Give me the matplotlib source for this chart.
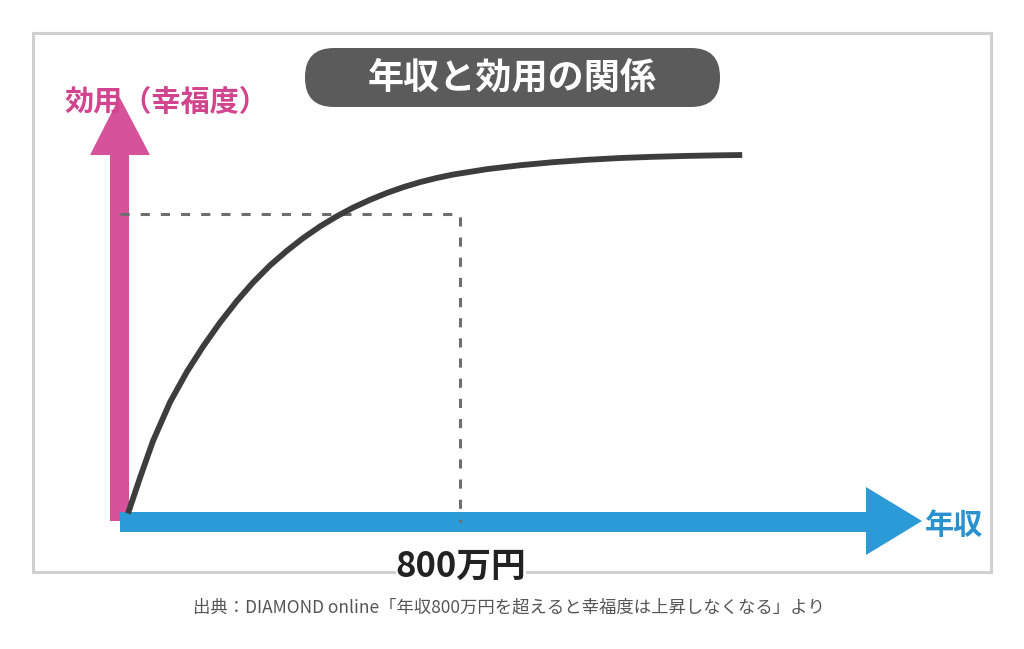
import numpy as np
import matplotlib
matplotlib.use("Agg")
import matplotlib.pyplot as plt
from matplotlib.patches import Polygon, FancyBboxPatch, Rectangle

plt.rcParams['font.family'] = ['Noto Sans CJK JP', 'DejaVu Sans']

### curve data: income (万円) vs utility (800万円 level = 100)
income = [0, 29, 60, 101, 142, 181, 222, 263, 301, 342, 383, 422, 463, 504,
          542, 583, 624, 663, 704, 745, 783, 865, 945, 1024, 1106, 1186,
          1265, 1347, 1426, 1480]
utility = [0.5, 12.4, 24.5, 37.4, 47.6, 56.0, 64.0, 71.2, 77.2, 82.9, 87.8, 92.0,
           95.9, 99.3, 102.1, 104.7, 107.0, 108.9, 110.6, 112.0, 113.1, 114.9,
           116.2, 117.2, 118.0, 118.6, 119.0, 119.3, 119.5, 119.6]
mark_income = 800
mark_utility = 100

title = "年収と効用の関係"
y_label = "効用（幸福度）"
x_label = "年収"
mark_label = "800万円"
source = "出典：DIAMOND online「年収800万円を超えると幸福度は上昇しなくなる」より"

pink = '#d6539a'
blue = '#2b9bd8'

fig = plt.figure(figsize=(10.24, 6.49), dpi=100)
fig.patch.set_facecolor('white')

### background layer (pixel coordinates) for frame, arrows and labels
bg = fig.add_axes([0, 0, 1, 1])
bg.set_xlim(0, 1024)
bg.set_ylim(649, 0)
bg.axis('off')

bg.add_patch(Rectangle((33, 33), 958, 539, fill=False, edgecolor='#d0d0d0', lw=2.2))

bg.add_patch(FancyBboxPatch((305, 48), 415, 59, boxstyle="round,pad=0,rounding_size=29",
                            facecolor='#5b5b5b', edgecolor='none', mutation_aspect=1))
bg.text(512, 78, title, color='white', fontsize=26, fontweight='bold',
        ha='center', va='center')

# y axis arrow
bg.add_patch(Polygon([(110, 521), (110, 155), (90, 155), (119.5, 97), (150, 155),
                      (129, 155), (129, 521)], closed=True, facecolor=pink, edgecolor='none'))
# x axis arrow
bg.add_patch(Polygon([(120, 512), (866, 512), (866, 487), (922, 521), (866, 555),
                      (866, 532), (120, 532)], closed=True, facecolor=blue, edgecolor='none'))

bg.text(65, 102, y_label, color='#d2448e', fontsize=21, fontweight='bold',
        ha='left', va='center')
bg.text(925, 525, x_label, color='#2a91cf', fontsize=21, fontweight='bold',
        ha='left', va='center')
bg.text(461, 566, mark_label, color='#222222', fontsize=25, fontweight='bold',
        ha='center', va='center',
        bbox=dict(facecolor='white', edgecolor='none', pad=0))
bg.text(509, 608, source, color='#555555', fontsize=12.5, ha='center', va='center')

### data layer
ax = fig.add_axes([0, 0, 1, 1])
ax.patch.set_alpha(0)
px_per_income = 332 / 800
px_per_util = 301 / 100
ax.set_xlim(-128 / px_per_income, (1024 - 128) / px_per_income)
ax.set_ylim(-134 / px_per_util, (649 - 134) / px_per_util)
ax.axis('off')

origin_x = -8.5 / px_per_income
ax.plot([origin_x, mark_income, mark_income], [mark_utility, mark_utility, -2.3],
        color='#6e6e6e', lw=2.2, dashes=(3, 3.6))
ax.plot(income, utility, color='#3d3d3d', lw=4.2, solid_capstyle='butt',
        solid_joinstyle='round')

fig.savefig('out.png', dpi=100, facecolor='white')
